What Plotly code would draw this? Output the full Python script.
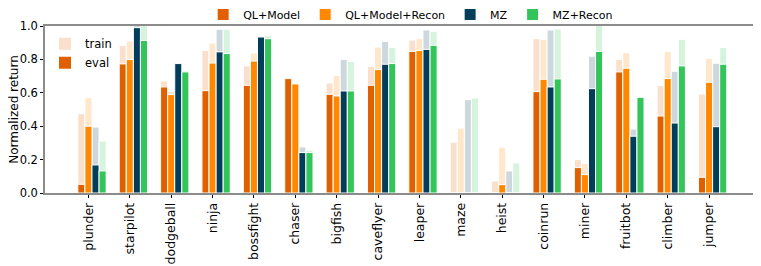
import plotly.graph_objects as go

games = ["plunder", "starpilot", "dodgeball", "ninja", "bossfight", "chaser", "bigfish",
         "caveflyer", "leaper", "maze", "heist", "coinrun", "miner", "fruitbot", "climber", "jumper"]

methods = ["QL+Model", "QL+Model+Recon", "MZ", "MZ+Recon"]

ql_model_train = [0.475, 0.884, 0.671, 0.854, 0.761, 0.688, 0.659, 0.759, 0.916, 0.304, 0.072, 0.924, 0.200, 0.800, 0.643, 0.593]
ql_model_eval = [0.052, 0.773, 0.635, 0.613, 0.645, 0.685, 0.591, 0.645, 0.848, 0.0, 0.0, 0.607, 0.152, 0.725, 0.461, 0.094]

ql_recon_train = [0.571, 0.910, 0.609, 0.898, 0.838, 0.640, 0.705, 0.874, 0.924, 0.389, 0.274, 0.920, 0.176, 0.841, 0.848, 0.807]
ql_recon_eval = [0.400, 0.799, 0.589, 0.778, 0.790, 0.653, 0.581, 0.739, 0.853, 0.0, 0.050, 0.681, 0.110, 0.747, 0.685, 0.663]

mz_train = [0.395, 1.030, 0.777, 0.980, 0.936, 0.276, 0.800, 0.908, 0.976, 0.559, 0.132, 0.976, 0.819, 0.383, 0.729, 0.777]
mz_eval = [0.168, 0.990, 0.775, 0.845, 0.934, 0.242, 0.611, 0.771, 0.860, 0.0, 0.0, 0.635, 0.625, 0.340, 0.419, 0.397]

mz_recon_train = [0.311, 1.030, 0.735, 0.980, 0.942, 0.256, 0.787, 0.871, 0.968, 0.569, 0.180, 0.982, 1.030, 0.560, 0.920, 0.872]
mz_recon_eval = [0.132, 0.914, 0.725, 0.835, 0.924, 0.242, 0.611, 0.775, 0.884, 0.0, 0.0, 0.683, 0.848, 0.573, 0.761, 0.771]

colors = ["#e06000", "#ff8800", "#023e5a", "#33c45a"]
light_colors = ["rgba(224,96,0,0.2)", "rgba(255,136,0,0.2)", "rgba(2,62,90,0.2)", "rgba(51,196,90,0.2)"]

train_series = [ql_model_train, ql_recon_train, mz_train, mz_recon_train]
eval_series = [ql_model_eval, ql_recon_eval, mz_eval, mz_recon_eval]

pitch = 0.171
bw = 0.171

fig = go.Figure()

for k, (name, vals) in enumerate(zip(methods, train_series)):
    fig.add_trace(go.Bar(
        x=games, y=vals, name=name + " train", showlegend=False,
        width=bw, offset=(k - 1) * pitch - bw / 2,
        marker=dict(color=light_colors[k], line=dict(color="white", width=1)),
    ))

for k, (name, vals) in enumerate(zip(methods, eval_series)):
    fig.add_trace(go.Bar(
        x=games, y=vals, name=name, legend="legend",
        width=bw, offset=(k - 1) * pitch - bw / 2,
        marker=dict(color=colors[k], line=dict(color="white", width=1)),
    ))

# train / eval key
fig.add_trace(go.Bar(x=[None], y=[None], name="train", legend="legend2",
                     marker=dict(color=light_colors[0], line=dict(width=0))))
fig.add_trace(go.Bar(x=[None], y=[None], name="eval", legend="legend2",
                     marker=dict(color=colors[0], line=dict(width=0))))

# the page adds an 8px body margin, so the figure is sized to fit the 761x266 window
fig.update_layout(
    width=753, height=258,
    margin=dict(l=37, r=6, t=18, b=73, autoexpand=False),
    paper_bgcolor="white", plot_bgcolor="white",
    barmode="overlay",
    font=dict(family="DejaVu Sans", size=12, color="black"),
    showlegend=True,
    legend=dict(orientation="h", x=0.515, xanchor="center", y=1.069, yanchor="middle",
                font=dict(size=11), itemwidth=30, bgcolor="rgba(0,0,0,0)",
                traceorder="normal"),
    legend2=dict(x=0.0, xanchor="left", y=0.98, yanchor="top",
                 font=dict(size=11.5), itemwidth=30, bgcolor="rgba(0,0,0,0)",
                 tracegroupgap=0),
    annotations=[dict(text="Normalized return", textangle=-90, showarrow=False,
                      xref="paper", yref="paper", x=-0.0447, y=0.5,
                      xanchor="center", yanchor="middle", borderpad=0,
                      font=dict(size=12))],
)

fig.update_xaxes(
    type="category", range=[-1.05, 16.11],
    tickangle=-90, tickfont=dict(size=12.5),
    showline=True, linecolor="#8c8c8c", linewidth=1.5, mirror=True,
    ticks="outside", ticklen=3, tickcolor="black", showgrid=False,
)
fig.update_yaxes(
    range=[0, 1.0], tickvals=[0, 0.2, 0.4, 0.6, 0.8, 1.0], tickformat=".1f",
    tickfont=dict(size=11.5),
    showline=True, linecolor="#8c8c8c", linewidth=1.5, mirror=True,
    ticks="outside", ticklen=3, tickcolor="black", showgrid=False, zeroline=False,
)

fig.write_html("out.html")
